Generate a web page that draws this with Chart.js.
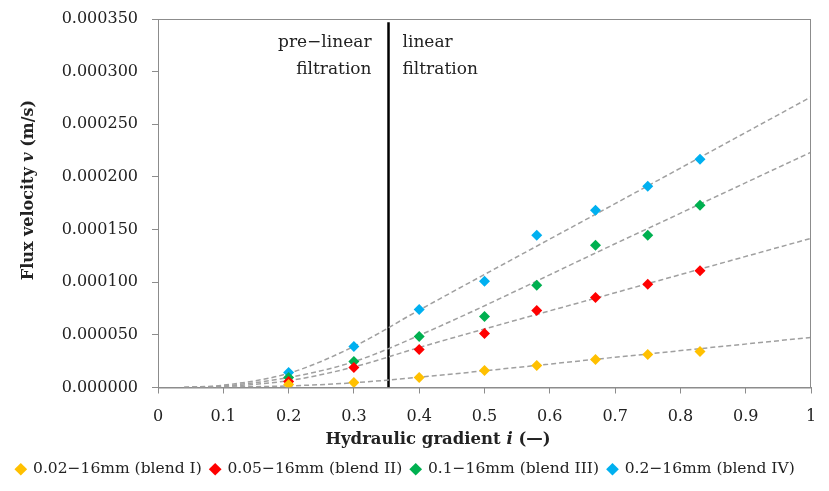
<!DOCTYPE html>
<html>
<head>
<meta charset="utf-8">
<script src="https://cdn.jsdelivr.net/npm/chart.js@4"></script>
<style>
html, body { margin: 0; padding: 0; background: #fff; }
</style>
</head>
<body>
<canvas id="fluxChart" width="829" height="491"></canvas>
<script>
// measured points (hydraulic gradient i vs flux velocity v)
const gradients = [0.2, 0.3, 0.4, 0.5, 0.58, 0.67, 0.75, 0.83];
const blendI   = [0.0000029, 0.0000048, 0.0000095, 0.0000162, 0.0000210, 0.0000266, 0.0000314, 0.0000342];
const blendII  = [0.0000057, 0.0000190, 0.0000361, 0.0000514, 0.0000732, 0.0000856, 0.0000980, 0.0001110];
const blendIII = [0.0000095, 0.0000247, 0.0000485, 0.0000675, 0.0000970, 0.0001350, 0.0001446, 0.0001730];
const blendIV  = [0.0000143, 0.0000390, 0.0000742, 0.0001008, 0.0001446, 0.0001684, 0.0001912, 0.0002168];

// dashed trend lines
const trendX   = [0.04, 0.1, 0.2, 0.3, 0.4, 0.7, 1.0];
const trendI   = [0, 0.0000004, 0.0000015, 0.0000045, 0.0000098, 0.0000287, 0.0000476];
const trendII  = [0, 0.0000010, 0.0000065, 0.0000195, 0.0000380, 0.0000900, 0.0001417];
const trendIII = [0, 0.0000015, 0.0000095, 0.0000245, 0.0000495, 0.0001365, 0.0002235];
const trendIV  = [0, 0.0000022, 0.0000135, 0.0000390, 0.0000735, 0.0001746, 0.0002760];

const labels = ['0.02\u221216mm (blend I)', '0.05\u221216mm (blend II)', '0.1\u221216mm (blend III)', '0.2\u221216mm (blend IV)'];
const colors = ['#FFC000', '#FF0000', '#00B050', '#00B0F0'];

const boundaryX = 0.353;
const boundaryY = [0, 0.000347];

const FONT = 'DejaVu Serif';
Chart.defaults.font.family = FONT;
Chart.defaults.color = '#222';

function pts(xs, ys) {
    return xs.map((x, i) => ({ x: x, y: ys[i] }));
}

const series = [blendI, blendII, blendIII, blendIV];
const trends = [trendI, trendII, trendIII, trendIV];

const datasets = [];
series.forEach((s, k) => {
    datasets.push({
        label: labels[k],
        data: pts(gradients, s),
        pointStyle: 'rectRot',
        pointRadius: 5.5,
        backgroundColor: colors[k],
        borderColor: colors[k],
        borderWidth: 0,
        order: 0
    });
});
trends.forEach((t) => {
    datasets.push({
        data: pts(trendX, t),
        showLine: true,
        pointRadius: 0,
        borderColor: '#a0a0a0',
        borderWidth: 1.5,
        borderDash: [5, 3],
        cubicInterpolationMode: 'monotone',
        order: 1
    });
});
datasets.push({
    data: pts([boundaryX, boundaryX], boundaryY),
    showLine: true,
    pointRadius: 0,
    borderColor: '#000',
    borderWidth: 2.5,
    order: 1
});

function drawRuns(ctx, runs, cx, cy) {
    let total = 0;
    runs.forEach(r => { ctx.font = r.font; r.w = ctx.measureText(r.text).width; total += r.w; });
    let x = cx - total / 2;
    ctx.textAlign = 'left';
    ctx.textBaseline = 'middle';
    runs.forEach(r => { ctx.font = r.font; ctx.fillText(r.text, x, cy); x += r.w; });
}

const overlay = {
    id: 'overlay',
    afterDraw(chart) {
        const ctx = chart.ctx;
        const a = chart.chartArea;
        const xs = chart.scales.x;
        ctx.save();
        // frame
        ctx.strokeStyle = '#8c8c8c';
        ctx.lineWidth = 1;
        ctx.strokeRect(a.left + 0.5, a.top + 0.5, a.right - a.left - 1, a.bottom - a.top);

        ctx.fillStyle = '#222';
        // axis titles
        drawRuns(ctx, [
            { text: 'Hydraulic gradient ', font: 'bold 16.5px "' + FONT + '"' },
            { text: 'i', font: 'italic bold 16.5px "' + FONT + '"' },
            { text: ' (\u2014)', font: 'bold 16.5px "' + FONT + '"' }
        ], 438, 440);
        ctx.save();
        ctx.translate(29, 190);
        ctx.rotate(-Math.PI / 2);
        drawRuns(ctx, [
            { text: 'Flux velocity ', font: 'bold 16px "' + FONT + '"' },
            { text: 'v', font: 'italic bold 16px "' + FONT + '"' },
            { text: ' (m/s)', font: 'bold 16px "' + FONT + '"' }
        ], 0, 0);
        ctx.restore();

        // filtration regime labels
        const px = xs.getPixelForValue(boundaryX);
        ctx.font = '17px "' + FONT + '"';
        ctx.textBaseline = 'middle';
        ctx.textAlign = 'right';
        ctx.fillText('pre\u2212linear', px - 17, 43);
        ctx.fillText('filtration', px - 17, 70);
        ctx.textAlign = 'left';
        ctx.fillText('linear', px + 14, 43);
        ctx.fillText('filtration', px + 14, 70);
        ctx.restore();
    }
};

const ctx = document.getElementById('fluxChart').getContext('2d');
const fluxChart = new Chart(ctx, {
    type: 'scatter',
    data: { datasets: datasets },
    options: {
        responsive: false,
        animation: false,
        devicePixelRatio: 1,
        layout: { padding: { left: 0, right: 18, top: 19, bottom: 4 } },
        plugins: {
            tooltip: { enabled: false },
            legend: {
                position: 'bottom',
                labels: {
                    usePointStyle: true,
                    pointStyle: 'rectRot',
                    boxWidth: 9,
                    boxHeight: 9,
                    padding: 9,
                    font: { size: 15.5 },
                    color: '#222',
                    filter: item => !!item.text
                }
            }
        },
        scales: {
            x: {
                type: 'linear',
                min: 0,
                max: 1,
                afterFit: s => { s.height = 65; s.paddingRight = 0; s.paddingLeft = 0; },
                ticks: {
                    stepSize: 0.1,
                    padding: 14,
                    font: { size: 16 },
                    color: '#222',
                    callback: v => String(Math.round(v * 10) / 10)
                },
                grid: { drawOnChartArea: false, tickLength: 6, color: '#8c8c8c' },
                border: { color: '#8c8c8c' }
            },
            y: {
                min: 0,
                max: 0.00035,
                afterFit: s => { s.width = 158; s.paddingTop = 0; s.paddingBottom = 0; },
                ticks: {
                    stepSize: 0.00005,
                    padding: 14,
                    font: { size: 16 },
                    color: '#222',
                    callback: v => v.toFixed(6)
                },
                grid: { drawOnChartArea: false, tickLength: 6, color: '#8c8c8c' },
                border: { color: '#8c8c8c' }
            }
        }
    },
    plugins: [overlay]
});
</script>
</body>
</html>
